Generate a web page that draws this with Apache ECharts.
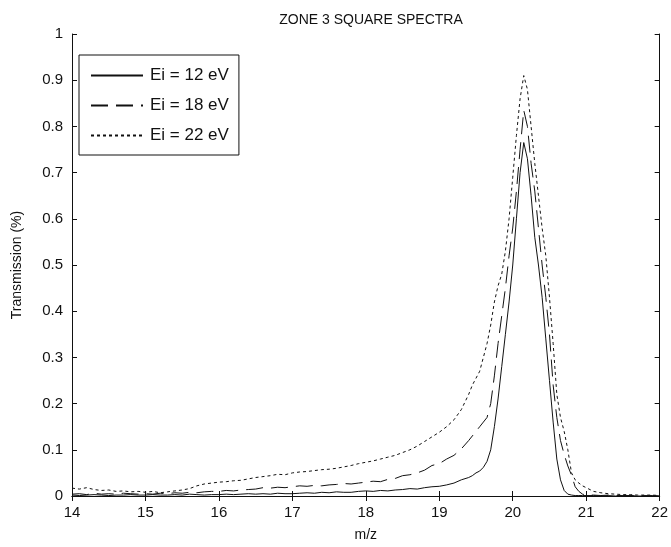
<!DOCTYPE html>
<html>
<head>
<meta charset="utf-8">
<script src="https://cdn.jsdelivr.net/npm/echarts@6/dist/echarts.min.js"></script>
<style>
  html, body { margin: 0; padding: 0; background: #fff; }
  #chart { width: 671px; height: 547px; }
</style>
</head>
<body>
<div id="chart"></div>
<script>
// m/z sample positions (finer around the peak)
var mz = [
  14.0, 14.1, 14.2, 14.3, 14.4, 14.5, 14.6, 14.7, 14.8, 14.9,
  15.0, 15.1, 15.2, 15.3, 15.4, 15.5, 15.6, 15.7, 15.8, 15.9,
  16.0, 16.1, 16.2, 16.3, 16.4, 16.5, 16.6, 16.7, 16.8, 16.9,
  17.0, 17.1, 17.2, 17.3, 17.4, 17.5, 17.6, 17.7, 17.8, 17.9,
  18.0, 18.1, 18.2, 18.3, 18.4, 18.5, 18.6, 18.7, 18.8, 18.9,
  19.0, 19.1, 19.2, 19.3, 19.4,
  19.45, 19.5, 19.55, 19.6, 19.65, 19.7, 19.75, 19.8, 19.85, 19.9, 19.95,
  20.0, 20.05, 20.1, 20.15, 20.2, 20.25, 20.3, 20.35, 20.4, 20.45, 20.5,
  20.55, 20.6, 20.65, 20.7, 20.75, 20.8, 20.85, 20.9, 20.95, 21.0,
  21.1, 21.2, 21.3, 21.4, 21.5, 21.6, 21.7, 21.8, 21.9, 22.0
];

// Ei = 12 eV
var ei12 = [
  0.002, 0.001, 0.002, 0.003, 0.002, 0.001, 0.002, 0.002, 0.003, 0.002,
  0.002, 0.003, 0.002, 0.002, 0.003, 0.002, 0.004, 0.003, 0.002, 0.003,
  0.003, 0.004, 0.003, 0.004, 0.005, 0.004, 0.005, 0.004, 0.006, 0.005,
  0.005, 0.006, 0.007, 0.006, 0.008, 0.007, 0.009, 0.008, 0.008, 0.010,
  0.011, 0.010, 0.012, 0.011, 0.013, 0.014, 0.016, 0.015, 0.018, 0.020,
  0.021, 0.024, 0.028, 0.035, 0.040,
  0.044, 0.050, 0.054, 0.062, 0.075, 0.100, 0.150, 0.210, 0.280, 0.350, 0.420,
  0.500, 0.600, 0.700, 0.765, 0.730, 0.650, 0.560, 0.500, 0.430, 0.340, 0.250,
  0.160, 0.080, 0.035, 0.012, 0.004, 0.002, 0.001, 0.001, 0.001, 0.001,
  0.001, 0.000, 0.001, 0.000, 0.000, 0.001, 0.000, 0.000, 0.001, 0.000
];

// Ei = 18 eV
var ei18 = [
  0.004, 0.005, 0.003, 0.006, 0.004, 0.005, 0.004, 0.006, 0.005, 0.004,
  0.005, 0.004, 0.006, 0.005, 0.007, 0.006, 0.008, 0.007, 0.009, 0.010,
  0.010, 0.012, 0.011, 0.013, 0.014, 0.015, 0.018, 0.017, 0.019, 0.018,
  0.020, 0.022, 0.021, 0.023, 0.022, 0.024, 0.025, 0.027, 0.026, 0.028,
  0.030, 0.032, 0.031, 0.036, 0.038, 0.044, 0.046, 0.050, 0.056, 0.066,
  0.070, 0.080, 0.088, 0.102, 0.120,
  0.130, 0.140, 0.150, 0.160, 0.170, 0.200, 0.260, 0.330, 0.390, 0.450, 0.520,
  0.580, 0.660, 0.750, 0.835, 0.800, 0.720, 0.660, 0.580, 0.500, 0.430, 0.350,
  0.240, 0.170, 0.120, 0.090, 0.065, 0.045, 0.020, 0.010, 0.004, 0.002,
  0.002, 0.001, 0.002, 0.001, 0.001, 0.001, 0.000, 0.001, 0.000, 0.000
];

// Ei = 22 eV
var ei22 = [
  0.017, 0.015, 0.018, 0.014, 0.012, 0.013, 0.010, 0.011, 0.009, 0.010,
  0.008, 0.010, 0.007, 0.009, 0.011, 0.013, 0.016, 0.022, 0.026, 0.028,
  0.030, 0.031, 0.033, 0.034, 0.037, 0.040, 0.042, 0.044, 0.047, 0.046,
  0.050, 0.052, 0.053, 0.055, 0.057, 0.058, 0.060, 0.063, 0.066, 0.070,
  0.073, 0.076, 0.080, 0.084, 0.088, 0.094, 0.100, 0.108, 0.118, 0.128,
  0.138, 0.150, 0.165, 0.187, 0.220,
  0.240, 0.255, 0.270, 0.300, 0.330, 0.370, 0.420, 0.455, 0.480, 0.530, 0.600,
  0.690, 0.780, 0.860, 0.910, 0.880, 0.800, 0.720, 0.650, 0.580, 0.520, 0.430,
  0.330, 0.220, 0.170, 0.140, 0.100, 0.050, 0.035, 0.028, 0.022, 0.018,
  0.010, 0.007, 0.005, 0.004, 0.003, 0.003, 0.002, 0.002, 0.002, 0.001
];

var names = ['Ei = 12 eV', 'Ei = 18 eV', 'Ei = 22 eV'];
var dashes = ['solid', [17, 8], [3, 3]];
var values = [ei12, ei18, ei22];

function pairs(ys) {
  return mz.map(function (x, i) { return [x, ys[i]]; });
}

var font = 'Liberation Sans, Arial, sans-serif';
var ink = '#111';

var chart = echarts.init(document.getElementById('chart'));

var series = [];
for (var k = 0; k < 3; k++) {
  series.push({
    name: names[k],
    type: 'line',
    data: pairs(values[k]),
    symbol: 'none',
    animation: false,
    lineStyle: { color: ink, width: 1, type: dashes[k] },
    itemStyle: { color: ink }
  });
}

var boxAxis = {
  axisLine: { show: true, lineStyle: { color: ink, width: 1 } },
  axisTick: { show: true, inside: true, length: 5, lineStyle: { color: ink } },
  splitLine: { show: false }
};

var option = {
  backgroundColor: '#fff',
  animation: false,
  title: {
    text: 'ZONE 3 SQUARE SPECTRA',
    left: 366,
    top: 8,
    textAlign: 'center',
    textStyle: { fontFamily: font, fontSize: 14, fontWeight: 'normal', color: ink }
  },
  legend: {
    orient: 'vertical',
    left: 79,
    top: 55,
    padding: [12, 10, 11, 11],
    itemWidth: 52,
    itemHeight: 14,
    itemGap: 13,
    borderColor: ink,
    borderWidth: 1,
    backgroundColor: '#fff',
    data: names,
    itemStyle: { opacity: 0 },
    textStyle: { fontFamily: font, fontSize: 17, color: ink, padding: [0, 0, 0, 2] }
  },
  grid: { left: 72, right: 10, top: 34, bottom: 46 },
  xAxis: [
    Object.assign({
      type: 'value',
      min: 14,
      max: 22,
      interval: 1,
      name: 'm/z',
      nameLocation: 'middle',
      nameGap: 32,
      nameTextStyle: { fontFamily: font, fontSize: 14, color: ink },
      axisLabel: { fontFamily: font, fontSize: 15, color: ink, margin: 9 }
    }, boxAxis),
    Object.assign({
      type: 'value',
      position: 'top',
      min: 14,
      max: 22,
      interval: 1,
      axisLabel: { show: false }
    }, boxAxis)
  ],
  yAxis: [
    Object.assign({
      type: 'value',
      min: 0,
      max: 1,
      interval: 0.1,
      name: 'Transmission (%)',
      nameLocation: 'middle',
      nameGap: 48,
      nameTextStyle: { fontFamily: font, fontSize: 14, color: ink },
      axisLabel: { fontFamily: font, fontSize: 15, color: ink, margin: 9 }
    }, boxAxis),
    Object.assign({
      type: 'value',
      position: 'right',
      min: 0,
      max: 1,
      interval: 0.1,
      axisLabel: { show: false }
    }, boxAxis)
  ],
  series: series
};

chart.setOption(option);
</script>
</body>
</html>
